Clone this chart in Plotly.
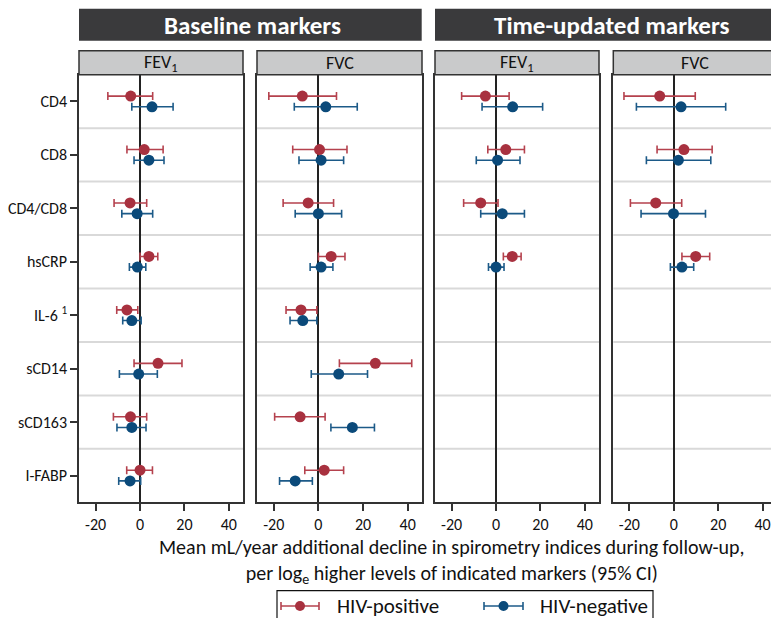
import plotly.graph_objects as go

# ---------------- data ----------------
markers = ["CD4", "CD8", "CD4/CD8", "hsCRP", "IL-6 <sup>1</sup>", "sCD14", "sCD163", "I-FABP"]
panel_titles = ["FEV<sub>1</sub>", "FVC", "FEV<sub>1</sub>", "FVC"]
group_titles = ["Baseline markers", "Time-updated markers"]
x_ticks = [-20, 0, 20, 40]

# Baseline FEV1
b_fev_pos_est = [-4.2, 1.9, -4.5, 4.0, -5.9, 8.1, -4.3, 0.0]
b_fev_pos_lo = [-14.5, -5.9, -11.7, 0.0, -10.5, -2.7, -12.0, -6.0]
b_fev_pos_hi = [5.7, 10.4, 3.0, 8.0, -1.0, 18.9, 3.0, 5.6]
b_fev_neg_est = [5.4, 4.0, -1.3, -1.2, -3.7, -0.6, -3.7, -4.5]
b_fev_neg_lo = [-3.7, -2.7, -8.2, -4.8, -7.8, -9.3, -10.4, -9.6]
b_fev_neg_hi = [14.9, 10.8, 5.7, 2.6, 0.5, 7.8, 2.7, 0.3]

# Baseline FVC
b_fvc_pos_est = [-7.2, 0.5, -4.6, 5.7, -7.8, 25.5, -8.2, 2.6]
b_fvc_pos_lo = [-22.2, -11.5, -15.8, 0.0, -14.5, 9.4, -19.6, -6.1]
b_fvc_pos_hi = [8.1, 12.8, 6.8, 11.9, -0.7, 41.8, 3.0, 11.3]
b_fvc_neg_est = [3.3, 1.2, 0.0, 1.2, -7.0, 9.1, 15.2, -10.4]
b_fvc_neg_lo = [-10.8, -8.7, -10.4, -3.7, -12.7, -3.2, 5.6, -17.4]
b_fvc_neg_hi = [17.4, 11.3, 10.4, 6.5, -0.7, 22.0, 25.1, -2.7]

# Time-updated FEV1 (first four markers only)
t_fev_pos_est = [-4.8, 4.4, -6.9, 7.3]
t_fev_pos_lo = [-15.5, -3.7, -14.6, 3.3]
t_fev_pos_hi = [5.9, 12.8, 0.9, 11.3]
t_fev_neg_est = [7.5, 0.7, 2.8, 0.0]
t_fev_neg_lo = [-6.3, -8.9, -6.9, -3.4]
t_fev_neg_hi = [21.0, 10.8, 12.8, 3.6]

# Time-updated FVC
t_fvc_pos_est = [-6.3, 4.6, -8.1, 9.9]
t_fvc_pos_lo = [-22.4, -7.5, -19.5, 3.7]
t_fvc_pos_hi = [9.7, 17.3, 3.6, 16.2]
t_fvc_neg_est = [3.3, 2.1, -0.1, 3.7]
t_fvc_neg_lo = [-16.8, -12.3, -14.7, -1.5]
t_fvc_neg_hi = [23.4, 16.7, 14.3, 9.0]

panels = [
    ((b_fev_pos_est, b_fev_pos_lo, b_fev_pos_hi), (b_fev_neg_est, b_fev_neg_lo, b_fev_neg_hi)),
    ((b_fvc_pos_est, b_fvc_pos_lo, b_fvc_pos_hi), (b_fvc_neg_est, b_fvc_neg_lo, b_fvc_neg_hi)),
    ((t_fev_pos_est, t_fev_pos_lo, t_fev_pos_hi), (t_fev_neg_est, t_fev_neg_lo, t_fev_neg_hi)),
    ((t_fvc_pos_est, t_fvc_pos_lo, t_fvc_pos_hi), (t_fvc_neg_est, t_fvc_neg_lo, t_fvc_neg_hi)),
]
series_names = ["HIV-positive", "HIV-negative"]

# ---------------- style ----------------
W, H = 771, 618
FONT = "Carlito, Lato, sans-serif"
RED_DOT, RED_BAR = "#a8313f", "#b5424e"
BLUE_DOT, BLUE_BAR = "#0b4a7a", "#1c5a88"
colors = [(RED_DOT, RED_BAR), (BLUE_DOT, BLUE_BAR)]
offsets = [-0.1, 0.1]
BORDER = "#333333"

def px_x(p):
    return p / W

def px_y(p):
    return 1 - p / H

x_domains = [(79, 243), (257, 422), (435, 599), (613.3, W)]
x_ranges = [[-27.5, 46.4], [-27.5, 46.4], [-27.5, 46.4], [-27.2, 43.8]]
y_dom = [px_y(502.3), px_y(74.7)]

fig = go.Figure()
shapes = []
annotations = []

for i, (pos, neg) in enumerate(panels):
    ax = "" if i == 0 else str(i + 1)
    for s, (est, lo, hi) in enumerate((pos, neg)):
        n = len(est)
        fig.add_trace(go.Scatter(
            x=est,
            y=[k + offsets[s] for k in range(n)],
            mode="markers",
            marker=dict(color=colors[s][0], size=11, line=dict(width=0)),
            error_x=dict(type="data", symmetric=False,
                         array=[h - e for h, e in zip(hi, est)],
                         arrayminus=[e - l for e, l in zip(est, lo)],
                         color=colors[s][1], thickness=1.6, width=4),
            name=series_names[s], showlegend=False,
            xaxis="x" + ax, yaxis="y" + ax,
        ))
    d0, d1 = x_domains[i]
    fig.update_layout(**{
        "xaxis" + ax: dict(
            domain=[px_x(d0), min(px_x(d1), 1.0)], range=x_ranges[i], anchor="y" + ax,
            showline=True, mirror=True, linecolor=BORDER, linewidth=1.5,
            ticks="outside", ticklen=7, tickwidth=1.5, tickcolor=BORDER,
            tickvals=x_ticks, ticktext=[str(t) for t in x_ticks],
            tickfont=dict(family=FONT, size=16, color="#111"),
            showgrid=False, zeroline=True, zerolinecolor="#222", zerolinewidth=2,
        ),
        "yaxis" + ax: dict(
            domain=y_dom, range=[7.5, -0.5], anchor="x" + ax,
            showline=True, mirror=(i < 3), linecolor=BORDER, linewidth=1.5,
            ticks="outside" if i == 0 else "", ticklen=7, tickwidth=1.5, tickcolor=BORDER,
            tickvals=list(range(len(markers))), ticktext=markers,
            showticklabels=(i == 0),
            tickfont=dict(family=FONT, size=16, color="#111"),
            showgrid=False, zeroline=False,
        ),
    })
    # row separators
    for k in range(len(markers) - 1):
        shapes.append(dict(type="line", xref="x" + ax + " domain", yref="y" + ax,
                           x0=0, x1=1, y0=k + 0.5, y1=k + 0.5,
                           line=dict(color="#d9d9d9", width=2), layer="below"))
    # strip header
    x1s = px_x(d1) if i < 3 else 1.02
    shapes.append(dict(type="rect", xref="paper", yref="paper",
                       x0=px_x(d0), x1=x1s, y0=px_y(74.7), y1=px_y(50.7),
                       fillcolor="#c9cacb", line=dict(color=BORDER, width=1.5), layer="above"))
    annotations.append(dict(xref="paper", yref="paper",
                            x=px_x((d0 + (d1 if i < 3 else d0 + 164.3)) / 2), y=px_y(62.7),
                            text=panel_titles[i], showarrow=False,
                            xanchor="center", yanchor="middle",
                            font=dict(family=FONT, size=18, color="#111")))

# group headers
group_spans = [(79, 421.7, 252), (435, W + 30, 612)]
for g, (g0, g1, gc) in enumerate(group_spans):
    shapes.append(dict(type="rect", xref="paper", yref="paper",
                       x0=px_x(g0), x1=px_x(g1), y0=px_y(40.7), y1=px_y(8.7),
                       fillcolor="#3a3a3c", line=dict(width=0)))
    annotations.append(dict(xref="paper", yref="paper", x=px_x(gc), y=px_y(25),
                            text="<b>" + group_titles[g] + "</b>", showarrow=False,
                            xanchor="center", yanchor="middle",
                            font=dict(family=FONT, size=25, color="white")))

# axis title (two lines in one text)
annotations.append(dict(xref="paper", yref="paper", x=px_x(452), y=px_y(561),
                        text="Mean mL/year additional decline in spirometry indices during follow-up,<br>"
                             "per log<sub>e</sub> higher levels of indicated markers (95% CI)",
                        showarrow=False, xanchor="center", yanchor="middle", align="center",
                        font=dict(family=FONT, size=20, color="#111")))

# legend box
shapes.append(dict(type="rect", xref="paper", yref="paper",
                   x0=px_x(277), x1=px_x(653), y0=px_y(640), y1=px_y(590.7),
                   fillcolor="white", line=dict(color="#111", width=1.2)))
leg_items = [(281, 319, 335), (484, 523, 538)]
ly = px_y(606)
for s, (a, b, t) in enumerate(leg_items):
    col_dot, col_bar = colors[s]
    shapes.append(dict(type="line", xref="paper", yref="paper", x0=px_x(a), x1=px_x(b),
                       y0=ly, y1=ly, line=dict(color=col_bar, width=1.6)))
    for e in (a, b):
        shapes.append(dict(type="line", xref="paper", yref="paper", x0=px_x(e), x1=px_x(e),
                           y0=px_y(602), y1=px_y(610), line=dict(color=col_bar, width=1.6)))
    c = (a + b) / 2
    shapes.append(dict(type="circle", xref="paper", yref="paper",
                       x0=px_x(c - 5), x1=px_x(c + 5), y0=px_y(611), y1=px_y(601),
                       fillcolor=col_dot, line=dict(width=0)))
    annotations.append(dict(xref="paper", yref="paper", x=px_x(t), y=ly,
                            text=series_names[s], showarrow=False,
                            xanchor="left", yanchor="middle",
                            font=dict(family=FONT, size=21, color="#111")))

fig.update_layout(
    width=W, height=H, margin=dict(l=0, r=0, t=0, b=0),
    paper_bgcolor="white", plot_bgcolor="white",
    shapes=shapes, annotations=annotations, showlegend=False,
    font=dict(family=FONT, color="#111"),
)

fig.write_html("out.html")
